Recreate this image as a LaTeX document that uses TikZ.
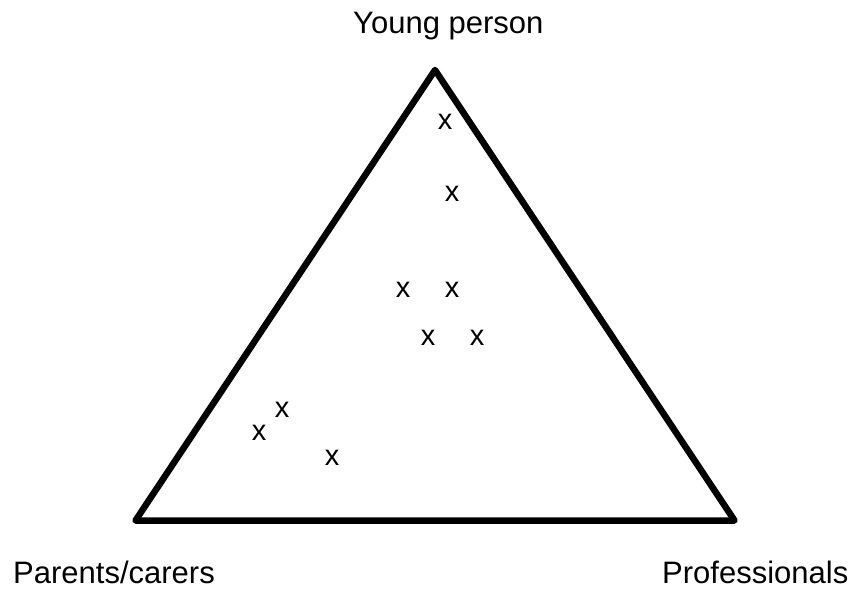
\documentclass[tikz,border=0pt]{standalone}
\usepackage{fontspec}
\setmainfont{Liberation Sans}
\begin{document}
\begin{tikzpicture}[x=1pt,y=-1pt,
  lbl/.style={inner sep=0pt,anchor=base west,font=\fontsize{31}{36}\selectfont},
  mk/.style={inner sep=0pt,font=\fontsize{29}{34}\selectfont},
  side/.style={line width=6.5pt,line join=round,line cap=round}]
\useasboundingbox (0,0) rectangle (853,591);
\coordinate (top) at (435,70);
\coordinate (bl) at (135.5,520.5);
\coordinate (br) at (734.5,520.5);
\draw[side] (top) -- (bl) -- (br) -- cycle;
\node[lbl] (yp) at (353,34) {Young person};
\node[lbl] (pc) at (13,583) {Parents/carers};
\node[lbl] (pr) at (662,583) {Professionals};
\node[mk] (m1) at (445,122) {x};
\node[mk] (m2) at (452,194) {x};
\node[mk] (m3) at (403,290) {x};
\node[mk] (m4) at (452,290) {x};
\node[mk] (m5) at (428,338) {x};
\node[mk] (m6) at (477,338) {x};
\node[mk] (m7) at (282,410) {x};
\node[mk] (m8) at (259,433) {x};
\node[mk] (m9) at (332,458) {x};
\end{tikzpicture}
\end{document}
